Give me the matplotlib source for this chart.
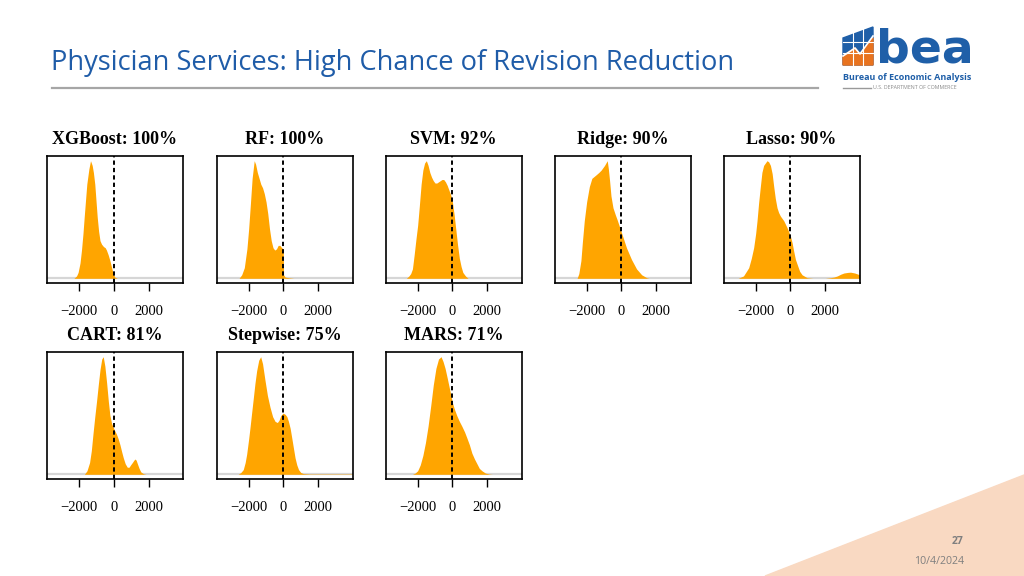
import matplotlib
matplotlib.use("Agg")
import matplotlib.pyplot as plt
from matplotlib.patches import Polygon

# -------------------------------
# Data
# x = revision (dollars), y = density scaled so each peak = 1
# -------------------------------

models = ["XGBoost", "RF", "SVM", "Ridge", "Lasso", "CART", "Stepwise", "MARS"]
pct_below_zero = [100, 100, 92, 90, 90, 81, 75, 71]

xgb_x = [-2300, -2150, -2060, -1950, -1865, -1780, -1710, -1630, -1560, -1440, -1346, -1250, -1180,
         -1100, -1030, -960, -880, -800, -710, -600, -500, -430, -330, -230, -130, -40, 50, 200]
xgb_y = [0, 0.02, 0.05, 0.13, 0.24, 0.38, 0.52, 0.67, 0.8, 0.93, 1.0, 0.96, 0.9,
         0.8, 0.66, 0.52, 0.4, 0.32, 0.29, 0.27, 0.26, 0.24, 0.2, 0.15, 0.09, 0.04, 0.01, 0]

rf_x = [-2550, -2400, -2250, -2100, -2000, -1900, -1800, -1680, -1600, -1500, -1400, -1300, -1200,
        -1100, -1000, -900, -800, -700, -600, -500, -400, -300, -200, -100, -10, 10, 100, 300, 600]
rf_y = [0, 0.03, 0.09, 0.25, 0.42, 0.63, 0.85, 1.0, 0.97, 0.9, 0.85, 0.8, 0.77,
        0.72, 0.65, 0.55, 0.42, 0.32, 0.26, 0.24, 0.25, 0.28, 0.28, 0.26, 0.25, 0.03, 0.01, 0.005, 0]

svm_x = [-2650, -2500, -2400, -2300, -2200, -2100, -2000, -1900, -1800, -1700, -1600, -1500, -1400,
         -1300, -1200, -1100, -1000, -900, -800, -700, -600, -500, -400, -300, -200, -100, 0,
         100, 200, 300, 400, 500, 600, 750, 900]
svm_y = [0, 0.02, 0.04, 0.08, 0.2, 0.33, 0.45, 0.62, 0.8, 0.92, 0.98, 1.0, 0.96,
         0.9, 0.86, 0.83, 0.81, 0.81, 0.82, 0.83, 0.84, 0.84, 0.82, 0.79, 0.75, 0.71, 0.65,
         0.54, 0.41, 0.28, 0.17, 0.1, 0.05, 0.02, 0]

ridge_x = [-2550, -2450, -2330, -2250, -2136, -2000, -1845, -1700, -1456, -1300, -1165, -970, -815,
           -750, -680, -600, -485, -350, -250, 0, 290, 580, 870, 1165, 1456, 1600]
ridge_y = [0, 0.04, 0.15, 0.3, 0.49, 0.65, 0.78, 0.85, 0.88, 0.9, 0.92, 0.96, 1.0,
           0.93, 0.83, 0.7, 0.6, 0.54, 0.5, 0.39, 0.26, 0.16, 0.08, 0.03, 0.005, 0]

lasso_x = [-3000, -2700, -2400, -2250, -2115, -2000, -1920, -1830, -1730, -1640, -1540, -1346, -1250,
           -1150, -1050, -960, -870, -770, -680, -580, -385, -190, 0, 100, 190, 290, 385, 530,
           670, 960, 1300, 2000, 2300, 2500, 2700, 2900, 3080, 3300, 3460, 3700, 3980]
lasso_y = [0, 0.02, 0.09, 0.17, 0.26, 0.38, 0.49, 0.64, 0.78, 0.9, 0.96, 1.0, 0.99,
           0.96, 0.89, 0.78, 0.68, 0.6, 0.56, 0.53, 0.49, 0.43, 0.36, 0.3, 0.23, 0.16, 0.12, 0.06,
           0.03, 0.005, 0, 0, 0.005, 0.01, 0.02, 0.035, 0.045, 0.05, 0.052, 0.045, 0.03]

cart_x = [-1700, -1550, -1400, -1300, -1200, -1100, -1000, -900, -800, -700, -615, -520, -420,
          -320, -230, -130, -40, 50, 150, 250, 350, 450, 540, 650, 770, 870, 960, 1060,
          1150, 1210, 1280, 1350, 1450, 1550, 1700, 1850]
cart_y = [0, 0.03, 0.1, 0.2, 0.35, 0.49, 0.62, 0.76, 0.89, 0.98, 1.0, 0.92, 0.78,
          0.62, 0.5, 0.43, 0.4, 0.37, 0.34, 0.3, 0.25, 0.19, 0.14, 0.09, 0.06, 0.06, 0.08, 0.1,
          0.12, 0.13, 0.12, 0.09, 0.05, 0.02, 0.005, 0]

step_x = [-2600, -2450, -2310, -2200, -2115, -2000, -1920, -1830, -1730, -1640, -1540, -1420, -1308,
          -1200, -1060, -920, -770, -620, -480, -350, -250, -150, -20, 100, 200, 290, 390, 480,
          580, 670, 770, 870, 1000, 1150, 1500, 2500, 3950]
step_y = [0, 0.015, 0.04, 0.1, 0.17, 0.3, 0.4, 0.52, 0.65, 0.77, 0.88, 0.97, 1.0,
          0.94, 0.8, 0.67, 0.57, 0.49, 0.45, 0.44, 0.46, 0.5, 0.52, 0.51, 0.49, 0.45, 0.39, 0.31,
          0.22, 0.14, 0.08, 0.04, 0.015, 0.006, 0.003, 0.003, 0.003]

mars_x = [-2300, -2150, -2000, -1850, -1700, -1550, -1400, -1250, -1100, -950, -800, -654,
          -540, -420, -300, -200, -100, 0, 100, 250, 400, 540, 700, 830, 980, 1120, 1270,
          1410, 1550, 1700, 1900, 2100, 2300]
mars_y = [0, 0.01, 0.03, 0.08, 0.16, 0.27, 0.41, 0.58, 0.76, 0.9, 0.98, 1.0,
          0.96, 0.9, 0.82, 0.75, 0.68, 0.61, 0.56, 0.5, 0.45, 0.41, 0.36, 0.31, 0.25, 0.18, 0.13,
          0.09, 0.05, 0.03, 0.01, 0.003, 0]

xticks = [-2000, 0, 2000]
xlims = (-3850, 3975)

curves = [(xgb_x, xgb_y), (rf_x, rf_y), (svm_x, svm_y), (ridge_x, ridge_y),
          (lasso_x, lasso_y), (cart_x, cart_y), (step_x, step_y), (mars_x, mars_y)]

# -------------------------------
# Slide layout (pixel helpers)
# -------------------------------
W, H = 1024, 576
def fx(p):
    return p / W
def fy(p):
    return 1 - p / H

fig = plt.figure(figsize=(W / 100, H / 100), dpi=100)
fig.patch.set_facecolor("white")

# title + rule
fig.text(fx(51), fy(63), "Physician Services: High Chance of Revision Reduction",
         fontsize=19.6, color="#1f5ca8", family="Open Sans", va="center", ha="left")
fig.add_artist(plt.Line2D([fx(52), fx(818)], [fy(88), fy(88)], color="#a6a6a6", lw=1.6))

# panels
col_left = [47, 216.5, 385.5, 554.5, 723.5]
row_bottom = [283, 479]
box_w, box_h = 136, 127

for i, (name, pct) in enumerate(zip(models, pct_below_zero)):
    r, c = divmod(i, 5)
    left = col_left[c]
    bottom = row_bottom[r]
    ax = fig.add_axes([fx(left), fy(bottom), box_w / W, box_h / H])
    xs, ys = curves[i]
    ax.axhline(0, color="#d6d6d6", lw=1.6, zorder=1)
    ax.fill_between(xs, ys, 0, color="orange", lw=0, zorder=2)
    ax.axvline(0, color="black", lw=1.4, ls=(0, (2.2, 1.6)), zorder=3)
    ax.set_xlim(*xlims)
    ax.set_ylim(-0.04, 1.04)
    ax.set_yticks([])
    ax.set_xticks(xticks)
    ax.set_xticklabels(["\u22122000", "0", "2000"], family="Liberation Serif", fontsize=10.5)
    ax.tick_params(axis="x", direction="out", length=6, width=1, pad=9.5)
    for s in ax.spines.values():
        s.set_linewidth(1.2)
    fig.text(fx(left + box_w / 2), fy(bottom - box_h - 16), f"{name}: {pct}%",
             family="Liberation Serif", weight="bold", fontsize=13, ha="center", va="center")

# bea logo (rough)
blue = "#1f5fa8"
orange_logo = "#e8731f"
fig.add_artist(Polygon([(fx(843), fy(65)), (fx(843), fy(38)), (fx(873), fy(27)), (fx(873), fy(65))],
                       closed=True, color=blue, transform=fig.transFigure))
fig.add_artist(Polygon([(fx(843), fy(65)), (fx(843), fy(56)), (fx(855), fy(48)), (fx(860), fy(54)),
                        (fx(873), fy(38)), (fx(873), fy(65))],
                       closed=True, color=orange_logo, transform=fig.transFigure))
for gx in [853, 863]:
    fig.add_artist(plt.Line2D([fx(gx), fx(gx)], [fy(65), fy(27)], color="white", lw=0.8))
for gy in [42, 53]:
    fig.add_artist(plt.Line2D([fx(843), fx(873)], [fy(gy), fy(gy)], color="white", lw=0.8))
fig.add_artist(plt.Line2D([fx(843), fx(855), fx(860), fx(873)], [fy(56), fy(48), fy(54), fy(36)],
                          color="white", lw=1.2))
fig.text(fx(876), fy(50), "bea", fontsize=34, weight="bold", family="DejaVu Sans",
         color=blue, ha="left", va="center")
fig.text(fx(843), fy(78), "Bureau of Economic Analysis", fontsize=6.5, weight="bold",
         family="Open Sans", color=blue, ha="left", va="center")
fig.add_artist(plt.Line2D([fx(843), fx(871)], [fy(87.5), fy(87.5)], color="#999999", lw=1))
fig.text(fx(873), fy(87.5), "U.S. DEPARTMENT OF COMMERCE", fontsize=3.8,
         family="Open Sans", color="#888888", ha="left", va="center")

# footer triangle, page number, date
fig.add_artist(Polygon([(fx(765), fy(576)), (fx(1024), fy(475)), (fx(1024), fy(576))],
                       closed=True, color="#f9d9c2", transform=fig.transFigure, zorder=0))
fig.text(fx(964), fy(541), "27", fontsize=7.5, weight="bold", family="Open Sans",
         color="#7f7f7f", ha="right", va="center")
fig.text(fx(964), fy(562), "10/4/2024", fontsize=7.7, family="Open Sans",
         color="#7f7f7f", ha="right", va="center")

plt.savefig("out.png", dpi=100)
print("Saved: out.png")
